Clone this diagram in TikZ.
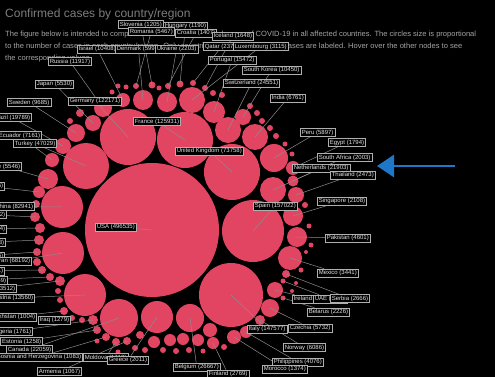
\documentclass[tikz,border=0pt]{standalone}
\usepackage{fontspec}
\setmainfont{Liberation Sans}
\usetikzlibrary{arrows.meta}
\definecolor{bubble}{RGB}{226,69,98}
\definecolor{leadgray}{RGB}{140,140,140}
\definecolor{boxgray}{RGB}{175,175,175}
\definecolor{labtext}{RGB}{225,225,225}
\definecolor{titlegray}{RGB}{125,125,125}
\definecolor{bodygray}{RGB}{165,165,165}
\definecolor{pointer}{RGB}{31,119,200}
\pgfdeclarelayer{back}
\pgfdeclarelayer{links}
\pgfsetlayers{back,links,main}
\begin{document}
\begin{tikzpicture}[x=1pt,y=-1pt,
  bub/.style={circle,fill=bubble,inner sep=0pt,minimum size={2*#1pt}},
  lab/.style={draw=boxgray,fill=black,line width=0.6pt,text=labtext,
    font=\fontsize{6}{7}\selectfont,inner xsep=1.5pt,inner ysep=1.2pt,
    text height=4.4pt,text depth=1.2pt},
  lead/.style={draw=leadgray,line width=0.5pt},
  bodytext/.style={anchor=base west,inner sep=0pt,text=bodygray,font=\fontsize{7.55}{9}\selectfont},
  pointerarrow/.style={draw=pointer,line width=2.7pt,-{Triangle[length=17pt,width=22pt]}}
]
\useasboundingbox (0,0) rectangle (495,377);
\clip (0,0) rectangle (495,377);
\begin{pgfonlayer}{back}
  \fill[black] (0,0) rectangle (495,377);
  % heading and explanatory text
  \node[anchor=base west,inner sep=0pt,text=titlegray,font=\fontsize{12}{14}\selectfont] (title) at (5,18)
    {Confirmed cases by country/region};
  \node[bodytext] (body1) at (5,36.5)
    {The figure below is intended to compare the number of confirmed cases of COVID-19 in all affected countries. The circles size is proportional};
  \node[bodytext] (body2) at (5,48.5)
    {to the number of cases in each country/region. Only countries with more than 1000 cases are labeled. Hover over the other nodes to see};
  \node[bodytext] (body3) at (5,60.5)
    {the corresponding values.};

  % unlabeled bubbles
  \foreach \x/\y/\r in {
    118/86/2.5, 126/87/2.5, 159/88/2.5, 213/93/3, 222/95/3, 250/106/3, 257/113/3,
    262/121/3, 270/128/3, 276/136/3, 285/144/2.5, 292/154/2.5,
    80/113/4, 70/121/3, 112/92/2.5,
    36/204/4, 37/262/4, 58/291/3, 60/300/3, 82/320/3,
    135/348/3, 145/350/3, 163/350/3, 176/351/3, 189/350/3, 203/351/2.5, 224/347/3,
    118/352/2.5, 97/341/2.5, 140/335/4, 154/342/6, 170/340/6, 183/339/6, 198/340/6, 210/330/7,
    305/205/3, 309/226/2.5, 311/245/2.5, 306/252/2, 301/270/2.5, 296/283/2, 292/291/2}
    \node[bub=\r] at (\x,\y) {};

  % labeled bubbles
  \node[bub=67] (usa) at (152,230) {};
  \node[bub=28] (germany) at (128,137) {};
  \node[bub=28] (france) at (185,140) {};
  \node[bub=28] (uk) at (232,172) {};
  \node[bub=31] (spain) at (253,231) {};
  \node[bub=32] (italy) at (231,295) {};
  \node[bub=23] (turkey) at (86,166) {};
  \node[bub=21] (china) at (62,207) {};
  \node[bub=21] (iran) at (63,253) {};
  \node[bub=21] (austria) at (85,295) {};
  \node[bub=19] (canada) at (119,318) {};
  \node[bub=16] (greece) at (157,317) {};
  \node[bub=14] (belgium) at (190,318) {};
  \node[bub=7] (israel) at (123,100) {};
  \node[bub=10] (denmark) at (143,100) {};
  \node[bub=10] (ukraine) at (167,102) {};
  \node[bub=9] (russia) at (103,108) {};
  \node[bub=13] (luxembourg) at (192,100) {};
  \node[bub=13] (switzerland) at (228,130) {};
  \node[bub=11] (portugal) at (214,112) {};
  \node[bub=8] (skorea) at (243,117) {};
  \node[bub=13] (india) at (255,137) {};
  \node[bub=3.5] (slovenia) at (152,85) {};
  \node[bub=3.5] (hungary) at (180,84) {};
  \node[bub=3] (romania) at (136,86) {};
  \node[bub=3] (croatia) at (168,86) {};
  \node[bub=3] (iceland) at (205,88) {};
  \node[bub=3] (qatar) at (193,83) {};
  \node[bub=8] (japan) at (93,123) {};
  \node[bub=9] (sweden) at (76,133) {};
  \node[bub=8] (brazil) at (63,146) {};
  \node[bub=7] (ecuador) at (52,160) {};
  \node[bub=10] (chile) at (48,179) {};
  \node[bub=6] (poland) at (39,192) {};
  \node[bub=5] (panama) at (35,217) {};
  \node[bub=5] (argentina) at (40,228) {};
  \node[bub=5] (australia) at (39,240) {};
  \node[bub=4] (malaysia) at (37,252) {};
  \node[bub=4] (saudi) at (42,270) {};
  \node[bub=4] (dominican) at (50,277) {};
  \node[bub=5] (indonesia) at (60,281) {};
  \node[bub=4] (kazakhstan) at (64,311) {};
  \node[bub=3] (iraq) at (72,318) {};
  \node[bub=5] (algeria) at (93,320) {};
  \node[bub=4] (estonia) at (97,330) {};
  \node[bub=4] (bosnia) at (106,337) {};
  \node[bub=4] (moldova) at (116,342) {};
  \node[bub=4] (armenia) at (127,341) {};
  \node[bub=6] (finland) at (213,343) {};
  \node[bub=7] (morocco) at (234,337) {};
  \node[bub=6] (philippines) at (246,332) {};
  \node[bub=5] (norway) at (260,320) {};
  \node[bub=14] (peru) at (274,158) {};
  \node[bub=7] (egypt) at (293,168) {};
  \node[bub=5.5] (safrica) at (293,181) {};
  \node[bub=13] (netherlands) at (273,190) {};
  \node[bub=8] (thailand) at (296,195) {};
  \node[bub=10] (singapore) at (293,216) {};
  \node[bub=10] (pakistan) at (297,237) {};
  \node[bub=12] (mexico) at (290,258) {};
  \node[bub=8] (ireland) at (275,290) {};
  \node[bub=2.5] (uae) at (283,281) {};
  \node[bub=4] (serbia) at (286,274) {};
  \node[bub=2.5] (belarus) at (283,298) {};
  \node[bub=9] (czechia) at (270,308) {};
\end{pgfonlayer}

% labels
\node[lab,anchor=west] (lSlovenia) at (118,24.5) {Slovenia (1205)};
\node[lab,anchor=west] (lHungary) at (163,26) {Hungary (1190)};
\node[lab,anchor=west] (lRomania) at (128,31.5) {Romania (5467)};
\node[lab,anchor=west] (lCroatia) at (175,33) {Croatia (1407)};
\node[lab,anchor=west] (lIceland) at (212,36) {Iceland (1648)};
\node[lab,anchor=west] (lIsrael) at (77,49) {Israel (10408)};
\node[lab,anchor=west] (lDenmark) at (115,49) {Denmark (5996)};
\node[lab,anchor=west] (lUkraine) at (155,49) {Ukraine (2203)};
\node[lab,anchor=west] (lQatar) at (203,46.5) {Qatar (2376)};
\node[lab,anchor=west] (lLuxembourg) at (233,46.5) {Luxembourg (3115)};
\node[lab,anchor=west] (lRussia) at (48,61.5) {Russia (11917)};
\node[lab,anchor=west] (lPortugal) at (208,60) {Portugal (15472)};
\node[lab,anchor=west] (lSKorea) at (242,70) {South Korea (10450)};
\node[lab,anchor=west] (lSwitzerland) at (223,83) {Switzerland (24551)};
\node[lab,anchor=west] (lIndia) at (270,98) {India (6761)};
\node[lab,anchor=west] (lJapan) at (35,84) {Japan (5530)};
\node[lab,anchor=west] (lGermany) at (68,101) {Germany (122171)};
\node[lab,anchor=west] (lSweden) at (7,102.5) {Sweden (9685)};
\node[lab,anchor=east] (lBrazil) at (32,117.5) {Brazil (19789)};
\node[lab,anchor=west] (lFrance) at (133,121.5) {France (125931)};
\node[lab,anchor=east] (lEcuador) at (42,135.5) {Ecuador (7161)};
\node[lab,anchor=west] (lTurkey) at (13,143.5) {Turkey (47029)};
\node[lab,anchor=west] (lUK) at (175,151) {United Kingdom (73758)};
\node[lab,anchor=east] (lChile) at (22,166.5) {Chile (5546)};
\node[lab,anchor=east] (lPoland) at (5,186) {Poland (5955)};
\node[lab,anchor=east] (lChina) at (35,206.5) {China (82941)};
\node[lab,anchor=east] (lPanama) at (7,214.5) {Panama (2752)};
\node[lab,anchor=east] (lArgentina) at (7,229) {Argentina (1894)};
\node[lab,anchor=east] (lAustralia) at (6,242.5) {Australia (6203)};
\node[lab,anchor=east] (lMalaysia) at (5,256) {Malaysia (4346)};
\node[lab,anchor=east] (lIran) at (32,261) {Iran (68192)};
\node[lab,anchor=east] (lSaudi) at (5,271) {Saudi Arabia (3651)};
\node[lab,anchor=east] (lDominican) at (8,280.5) {Dominican Republic (2349)};
\node[lab,anchor=east] (lIndonesia) at (17,288.5) {Indonesia (3512)};
\node[lab,anchor=east] (lAustria) at (35,298) {Austria (13560)};
\node[lab,anchor=east] (lKazakhstan) at (37,317) {Kazakhstan (1004)};
\node[lab,anchor=west] (lIraq) at (38,320) {Iraq (1279)};
\node[lab,anchor=east] (lAlgeria) at (33,331.5) {Algeria (1761)};
\node[lab,anchor=east] (lEstonia) at (43,341.5) {Estonia (1258)};
\node[lab,anchor=east] (lCanada) at (53,349.5) {Canada (22059)};
\node[lab,anchor=east] (lBosnia) at (83,357) {Bosnia and Herzegovina (1083)};
\node[lab,anchor=west] (lMoldova) at (83,357.5) {Moldova (1712)};
\node[lab,anchor=west] (lGreece) at (107,360) {Greece (2011)};
\node[lab,anchor=west] (lArmenia) at (37,371.5) {Armenia (1067)};
\node[lab,anchor=west] (lBelgium) at (173,367) {Belgium (26667)};
\node[lab,anchor=west] (lFinland) at (207,374) {Finland (2769)};
\node[lab,anchor=west] (lUSA) at (95,227) {USA (496535)};
\node[lab,anchor=west] (lPeru) at (300,132.5) {Peru (5897)};
\node[lab,anchor=west] (lEgypt) at (328,142.5) {Egypt (1794)};
\node[lab,anchor=west] (lSAfrica) at (317,157.5) {South Africa (2003)};
\node[lab,anchor=west] (lNetherlands) at (292,168) {Netherlands (21903)};
\node[lab,anchor=west] (lThailand) at (330,175) {Thailand (2473)};
\node[lab,anchor=west] (lSingapore) at (317,201) {Singapore (2108)};
\node[lab,anchor=west] (lSpain) at (253,206) {Spain (157022)};
\node[lab,anchor=west] (lPakistan) at (325,238) {Pakistan (4601)};
\node[lab,anchor=west] (lMexico) at (317,273) {Mexico (3441)};
\node[lab,anchor=west] (lIreland) at (292,299) {Ireland (8089)};
\node[lab,anchor=west] (lUAE) at (313,299) {UAE (3360)};
\node[lab,anchor=west] (lSerbia) at (330,298.5) {Serbia (2666)};
\node[lab,anchor=west] (lBelarus) at (307,312) {Belarus (2226)};
\node[lab,anchor=west] (lCzechia) at (288,328) {Czechia (5732)};
\node[lab,anchor=west] (lItaly) at (247,329) {Italy (147577)};
\node[lab,anchor=west] (lNorway) at (283,347.5) {Norway (6086)};
\node[lab,anchor=west] (lPhilippines) at (272,362) {Philippines (4076)};
\node[lab,anchor=west] (lMorocco) at (262,369) {Morocco (1374)};

% leader lines from bubble centres to their labels
\begin{pgfonlayer}{links}
  \foreach \b/\l in {usa/lUSA, germany/lGermany, france/lFrance, uk/lUK, spain/lSpain,
    italy/lItaly, turkey/lTurkey, china/lChina, iran/lIran, austria/lAustria,
    canada/lCanada, greece/lGreece, belgium/lBelgium, israel/lIsrael, denmark/lDenmark,
    ukraine/lUkraine, russia/lRussia, luxembourg/lLuxembourg, switzerland/lSwitzerland,
    portugal/lPortugal, skorea/lSKorea, india/lIndia, slovenia/lSlovenia, hungary/lHungary,
    romania/lRomania, croatia/lCroatia, iceland/lIceland, qatar/lQatar, japan/lJapan,
    sweden/lSweden, brazil/lBrazil, ecuador/lEcuador, chile/lChile, poland/lPoland,
    panama/lPanama, argentina/lArgentina, australia/lAustralia, malaysia/lMalaysia,
    saudi/lSaudi, dominican/lDominican, indonesia/lIndonesia, kazakhstan/lKazakhstan,
    iraq/lIraq, algeria/lAlgeria, estonia/lEstonia, bosnia/lBosnia, moldova/lMoldova,
    armenia/lArmenia, finland/lFinland, morocco/lMorocco, philippines/lPhilippines,
    norway/lNorway, peru/lPeru, egypt/lEgypt, safrica/lSAfrica, netherlands/lNetherlands,
    thailand/lThailand, singapore/lSingapore, pakistan/lPakistan, mexico/lMexico,
    ireland/lIreland, uae/lUAE, serbia/lSerbia, belarus/lBelarus, czechia/lCzechia}
    \draw[lead] (\b.center) -- (\l);
\end{pgfonlayer}

% pointer arrow
\coordinate (arrowtail) at (455,166);
\coordinate (arrowtip) at (377,166);
\draw[pointerarrow] (arrowtail) -- (arrowtip);
\end{tikzpicture}
\end{document}
